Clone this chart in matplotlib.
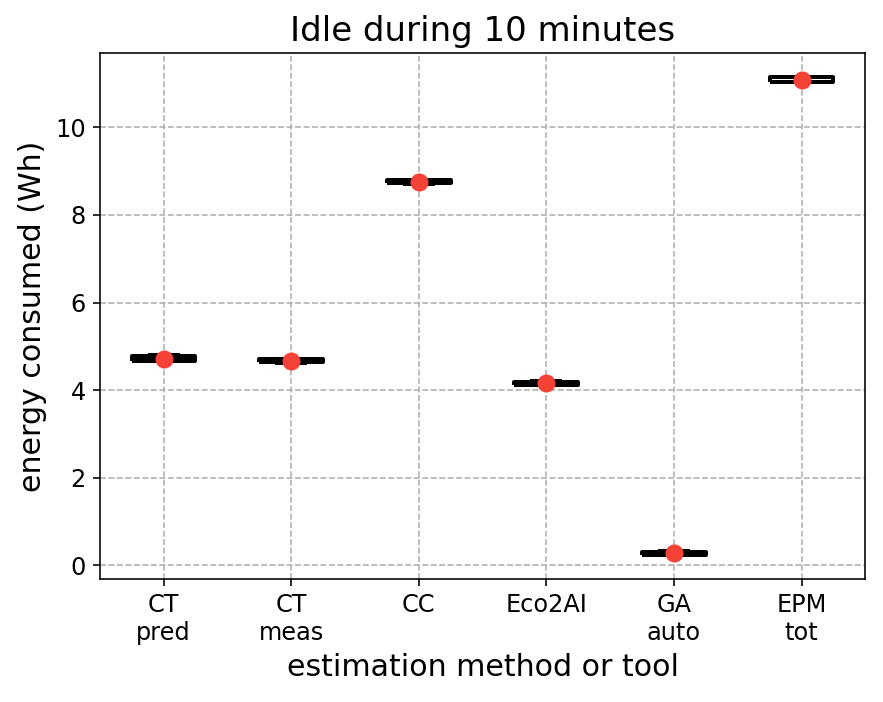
import matplotlib
matplotlib.use("Agg")
import matplotlib.pyplot as plt

labels = ["CT\npred", "CT\nmeas", "CC", "Eco2AI", "GA\nauto", "EPM\ntot"]
ct_pred = [4.67, 4.67, 4.68, 4.79, 4.80]
ct_meas = [4.63, 4.64, 4.67, 4.71, 4.72]
cc = [8.71, 8.72, 8.75, 8.79, 8.80]
eco2ai = [4.11, 4.12, 4.15, 4.19, 4.20]
ga_auto = [0.23, 0.24, 0.27, 0.31, 0.32]
epm_tot = [11.03, 11.03, 11.04, 11.15, 11.16]

data = [ct_pred, ct_meas, cc, eco2ai, ga_auto, epm_tot]

line_style = dict(color="black", linewidth=2, solid_capstyle="butt")

fig, ax = plt.subplots(figsize=(883 / 144, 702 / 144), dpi=144)
ax.boxplot(data, tick_labels=labels, showmeans=True, showfliers=False,
           boxprops=line_style, medianprops=line_style,
           whiskerprops=line_style, capprops=line_style,
           meanprops=dict(marker="o", markerfacecolor="#f44336",
                          markeredgecolor="#f44336", markersize=8))
ax.grid(True, linestyle="--", color="#b0b0b0")
ax.set_axisbelow(True)
ax.set_title("Idle during 10 minutes", fontsize=17)
ax.set_xlabel("estimation method or tool", fontsize=15)
ax.set_ylabel("energy consumed (Wh)", fontsize=15)
ax.tick_params(labelsize=12)
plt.subplots_adjust(left=0.113, right=0.98, top=0.925, bottom=0.175)
plt.savefig("out.png", dpi=144)
